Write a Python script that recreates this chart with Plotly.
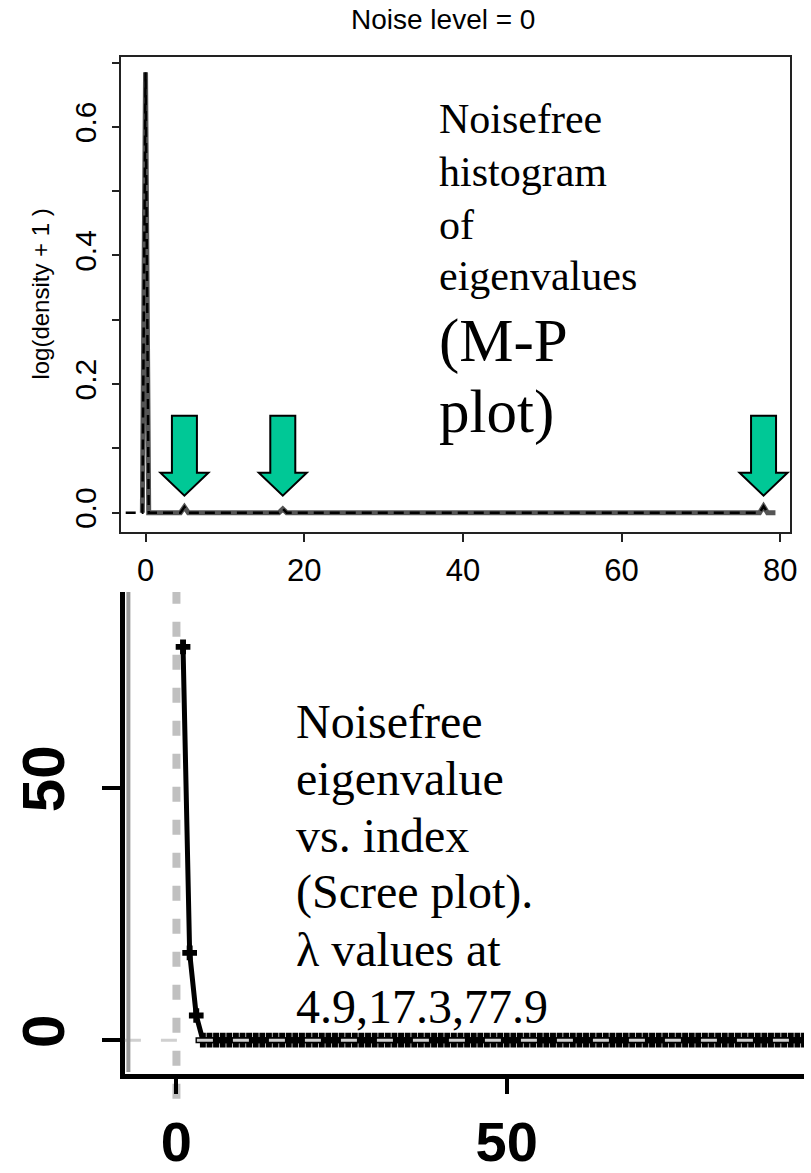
import plotly.graph_objects as go

W, H = 811, 1173

# ---------------- data ----------------
eigenvalues = [4.9, 17.3, 77.9]

# top panel: log(density + 1) of the noisefree eigenvalue spectrum
density_x = [-0.4, 0.0, 0.4, 4.4, 4.9, 5.4, 16.8, 17.3, 17.8, 77.4, 77.9, 78.4, 79.4]
density_y = [0.0, 0.685, 0.0, 0.0, 0.009, 0.0, 0.0, 0.006, 0.0, 0.0, 0.010, 0.0, 0.0]
density_dash_x = [-2.5, -0.4, 0.0, 0.4, 4.4, 4.9, 5.4, 16.8, 17.3, 17.8, 77.4, 77.9, 78.4]
density_dash_y = [0.0, 0.0, 0.685, 0.0, 0.0, 0.009, 0.0, 0.0, 0.006, 0.0, 0.0, 0.010, 0.0]

top_xticks = [0, 20, 40, 60, 80]
top_yticks = [0.0, 0.1, 0.2, 0.3, 0.4, 0.5, 0.6, 0.7]
top_yticktext = ["0.0", "", "0.2", "", "0.4", "", "0.6", ""]

# bottom panel: scree plot (eigenvalue vs index)
scree_index = list(range(1, 101))
scree_values = [77.9, 17.3, 4.9] + [0.0] * 97
bot_xticks = [0, 50]
bot_yticks = [0, 50]

title_text = "Noise level = 0"
ylabel_text = "log(density + 1 )"
top_note_small = ["Noisefree", "histogram", "of", "eigenvalues"]
top_note_big = ["(M-P", "plot)"]
bottom_note = ["Noisefree", "eigenvalue", "vs. index", "(Scree plot).",
               "\u03bb values at", "4.9,17.3,77.9"]

SANS = "Liberation Sans, Arial, sans-serif"
SERIF = "Liberation Serif, Times New Roman, serif"
GREEN = "#00C896"


def px_x(p):
    return p / W


def px_y(p):
    return 1 - p / H


fig = go.Figure()

# top panel traces
fig.add_trace(go.Scatter(x=density_x, y=density_y, mode="lines",
                         line=dict(color="#555555", width=5),
                         xaxis="x", yaxis="y", showlegend=False, hoverinfo="skip"))
fig.add_trace(go.Scatter(x=density_dash_x, y=density_dash_y, mode="lines",
                         line=dict(color="black", width=2.5, dash="10px,6px"),
                         xaxis="x", yaxis="y", showlegend=False, hoverinfo="skip"))

# bottom panel trace
fig.add_trace(go.Scatter(x=scree_index, y=scree_values, mode="lines+markers",
                         line=dict(color="black", width=5),
                         marker=dict(symbol="cross", size=11, color="black",
                                     line=dict(color="black", width=1.5)),
                         xaxis="x2", yaxis="y2", showlegend=False, hoverinfo="skip"))

shapes = []
# green arrows pointing at the eigenvalue bumps
arrow_path = "M -12.5,97 L 12.5,97 L 12.5,40 L 24,40 L 0,17 L -24,40 L -12.5,40 Z"
for ev in eigenvalues:
    shapes.append(dict(type="path", xref="x", yref="y",
                       xsizemode="pixel", ysizemode="pixel",
                       xanchor=ev, yanchor=0, path=arrow_path,
                       fillcolor=GREEN, line=dict(color="black", width=2),
                       layer="above"))

# scree reference lines
shapes.append(dict(type="line", xref="x2", yref="paper", x0=0, x1=0,
                   y0=px_y(1110), y1=px_y(598),
                   line=dict(color="#c0c0c0", width=8, dash="15px,18px"), layer="below"))
shapes.append(dict(type="line", xref="x2 domain", yref="y2", x0=0, x1=1, y0=0, y1=0,
                   line=dict(color="#d0d0d0", width=3, dash="16px,20px"), layer="above"))
# grey shadow next to the left axis of the bottom panel
shapes.append(dict(type="line", xref="paper", yref="paper", x0=px_x(129.5), x1=px_x(129.5),
                   y0=px_y(1083), y1=px_y(598),
                   line=dict(color="#999999", width=4), layer="above"))

annotations = []
annotations.append(dict(text=title_text, x=px_x(447), y=px_y(20), xref="paper", yref="paper",
                        showarrow=False, xanchor="center", yanchor="middle",
                        font=dict(family=SANS, size=28, color="black")))
annotations.append(dict(text=ylabel_text, x=px_x(41), y=px_y(297), xref="paper", yref="paper",
                        showarrow=False, xanchor="center", yanchor="middle", textangle=-90,
                        font=dict(family=SANS, size=24, color="black")))


def add_lines(lines, left, baselines, size, shift=0):
    for t, b in zip(lines, baselines):
        annotations.append(dict(text=t, x=px_x(left), y=px_y(b - 0.34 * size + shift),
                                xref="paper", yref="paper", showarrow=False,
                                xanchor="left", yanchor="middle",
                                font=dict(family=SERIF, size=size, color="black")))


add_lines(top_note_small, 441, [135, 188, 242, 293], 42)
add_lines(top_note_big, 441, [363, 435], 61, shift=2)
add_lines(bottom_note, 297, [745.5, 803, 860.5, 918, 975.5, 1033], 48, shift=0)

fig.update_layout(
    width=W, height=H,
    margin=dict(l=0, r=0, t=0, b=0),
    paper_bgcolor="white", plot_bgcolor="white",
    showlegend=False,
    shapes=shapes,
    annotations=annotations,
    xaxis=dict(domain=[px_x(122), px_x(797)], range=[-3.1, 81.25], anchor="y",
               showgrid=False, zeroline=False, showline=True, mirror=True,
               linecolor="#222", linewidth=2, ticks="outside", ticklen=8, tickwidth=2,
               tickcolor="#222", tickvals=top_xticks, ticktext=[str(v) for v in top_xticks],
               ticklabelstandoff=2,
               tickfont=dict(family=SANS, size=31, color="black")),
    yaxis=dict(domain=[px_y(537), px_y(58)], range=[-0.0292, 0.708], anchor="x",
               showgrid=False, zeroline=False, showline=True, mirror=True,
               linecolor="#222", linewidth=2, ticks="outside", ticklen=7, tickwidth=2,
               tickcolor="#222", tickvals=top_yticks, ticktext=top_yticktext,
               tickangle=-90, ticklabelstandoff=4,
               tickfont=dict(family=SANS, size=30, color="black")),
    xaxis2=dict(domain=[px_x(126), 1.0], range=[-7.8, 95.0], anchor="y2",
                showgrid=False, zeroline=False, showline=True, mirror=False,
                linecolor="black", linewidth=5, ticks="outside", ticklen=15, tickwidth=4,
                tickcolor="black", tickvals=bot_xticks, ticktext=[str(v) for v in bot_xticks],
                tickfont=dict(family=SANS, size=56, color="black", weight="bold")),
    yaxis2=dict(domain=[px_y(1085), px_y(598)], range=[-6.67, 88.8], anchor="x2",
                showgrid=False, zeroline=False, showline=True, mirror=False,
                linecolor="black", linewidth=5, ticks="outside", ticklen=18, tickwidth=4,
                tickcolor="black", tickvals=bot_yticks, ticktext=[str(v) for v in bot_yticks],
                tickangle=-90, ticklabelstandoff=14,
                tickfont=dict(family=SANS, size=60, color="black", weight="bold")),
)

fig.write_html("out.html")
